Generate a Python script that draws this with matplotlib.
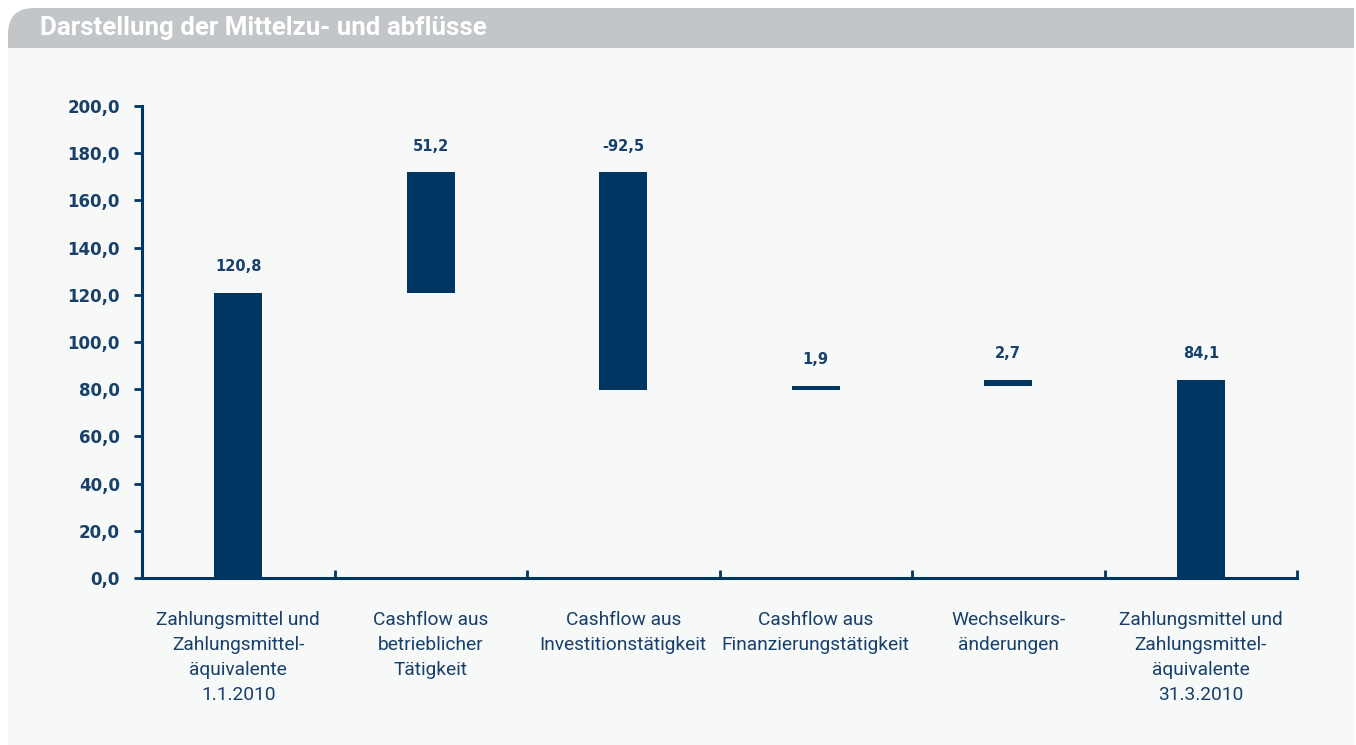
import matplotlib
matplotlib.use('Agg')
import matplotlib.pyplot as plt
import matplotlib.transforms as mtransforms
from matplotlib.path import Path
from matplotlib.patches import PathPatch, Rectangle
import numpy as np

# data
categories = ['Zahlungsmittel und\nZahlungsmittel-\näquivalente\n1.1.2010',
              'Cashflow aus\nbetrieblicher\nTätigkeit',
              'Cashflow aus\nInvestitionstätigkeit',
              'Cashflow aus\nFinanzierungstätigkeit',
              'Wechselkurs-\nänderungen',
              'Zahlungsmittel und\nZahlungsmittel-\näquivalente\n31.3.2010']
values = [120.8, 51.2, -92.5, 1.9, 2.7, 84.1]
is_total = [True, False, False, False, False, True]
value_labels = ['120,8', '51,2', '-92,5', '1,9', '2,7', '84,1']
yticks = [0, 20, 40, 60, 80, 100, 120, 140, 160, 180, 200]

W, H = 1356, 745
navy = '#003662'
text_col = '#17406b'

fig = plt.figure(figsize=(W / 100, H / 100), dpi=100)
fig.patch.set_facecolor('white')
px = mtransforms.Affine2D().scale(1 / W, 1 / H) + fig.transFigure

# panel background + header band with rounded top-left corner
fig.patches.append(Rectangle((8, 0), 1346, H - 48, transform=px,
                             facecolor='#f7f8f8', edgecolor='none', zorder=-3))
r = 26
x0, x1, yb, yt = 8, 1354, H - 48, H - 8
verts = [(x0, yb), (x1, yb), (x1, yt), (x0 + r, yt), (x0, yt), (x0, yt - r), (x0, yb)]
codes = [Path.MOVETO, Path.LINETO, Path.LINETO, Path.LINETO,
         Path.CURVE3, Path.CURVE3, Path.CLOSEPOLY]
fig.patches.append(PathPatch(Path(verts, codes), transform=px,
                             facecolor='#c3c6c9', edgecolor='none', zorder=-2))
fig.text(40 / W, 1 - 28.5 / H, 'Darstellung der Mittelzu- und abflüsse',
         color='white', fontsize=18.6, fontweight='bold', family='Roboto',
         va='center', ha='left')

ax = fig.add_axes([142 / W, 1 - 578 / H, (1297 - 142) / W, (578 - 106) / H])
ax.set_facecolor('none')

# waterfall bottoms / heights
running = 0.0
bottoms, heights = [], []
for v, tot in zip(values, is_total):
    if tot:
        bottoms.append(0)
        heights.append(v)
        running = v
    else:
        new = running + v
        bottoms.append(min(running, new))
        heights.append(abs(v))
        running = new

x = np.arange(len(values)) + 0.5
ax.bar(x, heights, bottom=bottoms, width=0.25, color=navy, zorder=3)

for xi, b, h, lab in zip(x, bottoms, heights, value_labels):
    ax.annotate(lab, (xi, b + h), xytext=(0, 18.7), textcoords='offset points',
                ha='center', va='center', fontsize=10.5, fontweight='bold',
                color=text_col, family='DejaVu Sans')

ax.set_xlim(0, len(values))
ax.set_ylim(0, 200)
ax.set_yticks(yticks)
ax.set_yticklabels([f'{t:.1f}'.replace('.', ',') for t in yticks])
ax.set_xticks(np.arange(len(values) + 1))
ax.set_xticklabels([])
ax.set_xticks(x, minor=True)
ax.set_xticklabels(categories, minor=True)

for s in ['top', 'right']:
    ax.spines[s].set_visible(False)
for s in ['left', 'bottom']:
    ax.spines[s].set_color(navy)
    ax.spines[s].set_linewidth(2.2)

ax.tick_params(axis='y', direction='out', length=6, width=2, color=navy,
               labelcolor=text_col, labelsize=12, pad=10)
ax.tick_params(axis='x', which='major', direction='in', length=6, width=2, color=navy)
ax.tick_params(axis='x', which='minor', length=0, pad=24, labelcolor=text_col, labelsize=13.8)
for lab in ax.get_yticklabels():
    lab.set_fontweight('bold')
    lab.set_family('DejaVu Sans')
for lab in ax.get_xticklabels(minor=True):
    lab.set_family('Roboto')
    lab.set_linespacing(1.5)

fig.savefig('out.png', dpi=100, facecolor=fig.get_facecolor())
